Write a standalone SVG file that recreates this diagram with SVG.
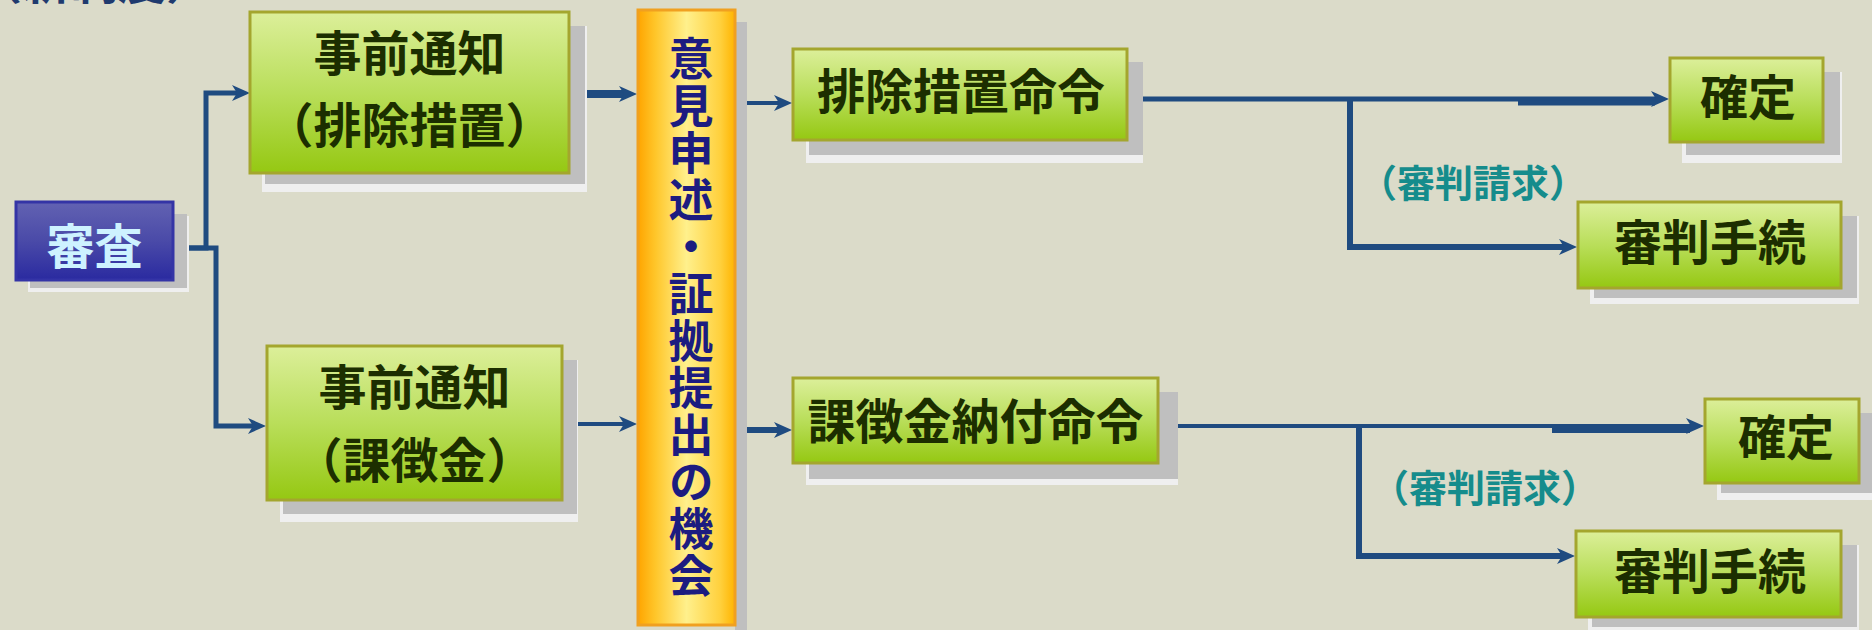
<svg xmlns="http://www.w3.org/2000/svg" width="1872" height="630" viewBox="0 0 1872 630">
<style>
.shadow{fill:#bfbfbf}
.shadowlite{fill:#efefef}
.green{fill:url(#gGreen);stroke:#a4a62e;stroke-width:3}
.gtxt{font-family:"Noto Sans CJK JP","Noto Sans CJK SC",sans-serif;font-weight:bold;font-size:48px;fill:#1c2e00;text-anchor:middle;dominant-baseline:central}
.conn{fill:none;stroke:#1f4b80;stroke-linejoin:miter}
.lbl{font-family:"Noto Sans CJK JP",sans-serif;font-weight:bold;font-size:38px;fill:#158c8c;text-anchor:middle;dominant-baseline:central}
.bar{font-family:"Noto Sans CJK JP","Noto Sans CJK SC",sans-serif;font-weight:bold;font-size:45px;fill:#1c1c80;text-anchor:middle;writing-mode:vertical-rl;letter-spacing:2px}
</style>
<defs>
<linearGradient id="gGreen" x1="0" y1="0" x2="0" y2="1">
<stop offset="0" stop-color="#dcef9a"/><stop offset="0.5" stop-color="#b9de5a"/><stop offset="1" stop-color="#95c812"/>
</linearGradient>
<linearGradient id="gBlue" x1="0" y1="0" x2="0" y2="1">
<stop offset="0" stop-color="#6262b2"/><stop offset="0.5" stop-color="#4a4aa8"/><stop offset="1" stop-color="#2a2aa0"/>
</linearGradient>
<linearGradient id="gOrange" x1="0" y1="0" x2="1" y2="0">
<stop offset="0" stop-color="#ffa500"/><stop offset="0.18" stop-color="#ffc62a"/><stop offset="0.5" stop-color="#fff08c"/><stop offset="0.85" stop-color="#ffd03c"/><stop offset="1" stop-color="#ffb400"/>
</linearGradient>
<marker id="arr" viewBox="0 0 18 18" markerWidth="18" markerHeight="18" refX="6" refY="9" orient="auto" markerUnits="userSpaceOnUse">
<path d="M0,1 L18,9 L0,17 L5,9 z" fill="#1f4b80"/>
</marker>
</defs>
<rect x="0" y="0" width="1872" height="630" fill="#dbdbc9"/>
<text x="-26" y="-1" font-family="'Noto Sans CJK JP',sans-serif" font-weight="bold" font-size="48" fill="#1f3a6e">（新制度）</text>

<g id="connectors">
<path class="conn" stroke-width="5" d="M173,248 H206 V93 H238" marker-end="url(#arr)"/>
<path class="conn" stroke-width="5" d="M173,248 H216 V426 H254" marker-end="url(#arr)"/>
<path class="conn" stroke-width="8" d="M569,94 H625" marker-end="url(#arr)"/>
<path class="conn" stroke-width="4" d="M562,424 H625" marker-end="url(#arr)"/>
<path class="conn" stroke-width="4" d="M747,103 H780" marker-end="url(#arr)"/>
<path class="conn" stroke-width="6" d="M747,430 H780" marker-end="url(#arr)"/>
<path class="conn" stroke-width="5" d="M1127,99 H1657" marker-end="url(#arr)"/>
<path class="conn" stroke-width="5" d="M1518,103 H1655"/>
<path class="conn" stroke-width="6" d="M1350,99 V247 H1565" marker-end="url(#arr)"/>
<path class="conn" stroke-width="4" d="M1158,426 H1692" marker-end="url(#arr)"/>
<path class="conn" stroke-width="6" d="M1552,430 H1690"/>
<path class="conn" stroke-width="6" d="M1359,426 V556 H1563" marker-end="url(#arr)"/>
<text class="lbl" x="1473" y="180">（審判請求）</text>
<text class="lbl" x="1485" y="485">（審判請求）</text>
</g>

<g id="shinsa">
<rect class="shadowlite" x="28" y="216" width="161" height="76"/>
<rect class="shadow" x="30" y="214" width="157" height="74"/>
<rect x="16" y="202" width="157" height="78" fill="url(#gBlue)" stroke="#3434a6" stroke-width="3"/>
<text x="94.5" y="243" font-family="'Noto Sans CJK JP',sans-serif" font-weight="bold" font-size="48" fill="#cdf2ff" text-anchor="middle" dominant-baseline="central">審査</text>
</g>

<g id="notice1">
<rect class="shadowlite" x="262" y="26" width="325" height="166"/>
<rect class="shadow" x="265" y="26" width="320" height="158"/>
<rect class="green" x="250" y="12" width="319" height="161"/>
<text class="gtxt" x="409.5" y="50">事前通知</text>
<text class="gtxt" x="409.5" y="122">（排除措置）</text>
</g>

<g id="notice2">
<rect class="shadowlite" x="280" y="360" width="298" height="162"/>
<rect class="shadow" x="283" y="360" width="294" height="154"/>
<rect class="green" x="267" y="346" width="295" height="154"/>
<text class="gtxt" x="414.5" y="384">事前通知</text>
<text class="gtxt" x="414.5" y="457">（課徴金）</text>
</g>

<g id="opportunity">
<rect class="shadow" x="735" y="22" width="12" height="608"/>
<rect x="638" y="10" width="97" height="615" fill="url(#gOrange)" stroke="#f0a020" stroke-width="3"/>
<text class="bar" x="691" y="318">意見申述・証拠提出の機会</text>
</g>

<g id="order1">
<rect class="shadowlite" x="806" y="62" width="337" height="101"/>
<rect class="shadow" x="809" y="62" width="334" height="93"/>
<rect class="green" x="793" y="49" width="334" height="91"/>
<text class="gtxt" x="961" y="88">排除措置命令</text>
</g>

<g id="order2">
<rect class="shadowlite" x="806" y="392" width="372" height="93"/>
<rect class="shadow" x="809" y="392" width="369" height="87"/>
<rect class="green" x="793" y="378" width="365" height="85"/>
<text class="gtxt" x="975.5" y="418">課徴金納付命令</text>
</g>

<g id="final1">
<rect class="shadowlite" x="1682" y="72" width="160" height="91"/>
<rect class="shadow" x="1686" y="72" width="154" height="83"/>
<rect class="green" x="1670" y="58" width="153" height="84"/>
<text class="gtxt" x="1748" y="94">確定</text>
</g>

<g id="trial1">
<rect class="shadowlite" x="1590" y="216" width="269" height="88"/>
<rect class="shadow" x="1594" y="216" width="263" height="82"/>
<rect class="green" x="1578" y="202" width="263" height="86"/>
<text class="gtxt" x="1710" y="239">審判手続</text>
</g>

<g id="final2">
<rect class="shadowlite" x="1717" y="413" width="160" height="87"/>
<rect class="shadow" x="1721" y="413" width="154" height="80"/>
<rect class="green" x="1705" y="399" width="154" height="84"/>
<text class="gtxt" x="1786" y="434">確定</text>
</g>

<g id="trial2">
<rect class="shadowlite" x="1588" y="545" width="271" height="88"/>
<rect class="shadow" x="1592" y="545" width="265" height="82"/>
<rect class="green" x="1576" y="531" width="265" height="86"/>
<text class="gtxt" x="1710" y="568">審判手続</text>
</g>
</svg>
